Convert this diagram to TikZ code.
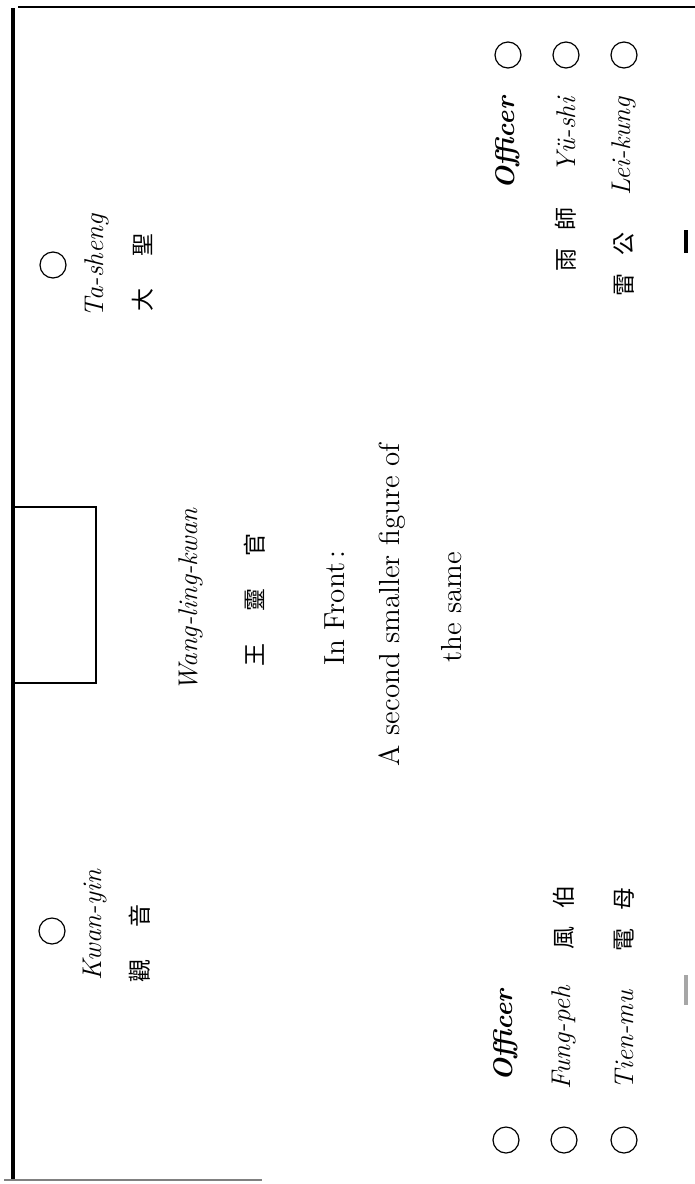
\documentclass[tikz,border=0pt]{standalone}
\usepackage{fontspec}
\newfontfamily\cjk{Noto Sans CJK TC}
\usetikzlibrary{positioning}

\newcommand{\widegap}{\hspace{16pt}}
\newcommand{\narrowgap}{\hspace{9pt}}

\begin{document}
\begin{tikzpicture}[
  x=0.5pt, y=-0.5pt,
  spot/.style={draw, circle, minimum size=13pt, inner sep=0pt, line width=0.6pt},
  roman/.style={rotate=90, inner sep=0pt,
               font=\fontsize{13.5}{15}\selectfont\itshape\addfontfeature{LetterSpace=6}},
  romanbold/.style={roman, font=\fontsize{13.5}{15}\selectfont\bfseries\itshape\addfontfeature{LetterSpace=6}},
  han/.style={rotate=90, inner sep=0pt, font=\fontsize{11.5}{13}\selectfont\cjk},
  notetext/.style={rotate=90, inner sep=0pt, font=\fontsize{14.5}{17}\selectfont},
  rule/.style={line width=1pt},
]
  \useasboundingbox (0,0) rectangle (695,1184);

  % page rules and the niche
  \draw[line width=2.4pt] (13,8) -- (13,1181);
  \draw[rule] (18,7) -- (695,7);
  \draw[gray, line width=0.8pt] (4,1180) -- (262,1180);
  \draw[line width=1.1pt] (13,507) -- (96,507) -- (96,683) -- (13,683);
  \draw[line width=2pt] (686,230) -- (686,253);
  \draw[gray!70, line width=2pt] (686,975) -- (686,1005);

  % Ta-sheng
  \node[spot] (ta) at (53,265) {};
  \node[roman] (ta-name) at (97,266) {Ta-sheng};
  \node[han] (ta-han) at (143,272) {大\widegap 聖};

  % Kwan-yin
  \node[spot] (kw) at (52,931) {};
  \node[roman] (kw-name) at (95,925) {Kwan-yin};
  \node[han] (kw-han) at (140,943) {觀\widegap 音};

  % central figure
  \node[roman] (wl-name) at (191,600) {Wang-ling-kwan};
  \node[han] (wl-han) at (255,600) {王\widegap 靈\widegap 官};
  \node[notetext] (front) at (335,608) {In Front\,:};
  \node[notetext] (second) at (392,605) {A second smaller figure of};
  \node[notetext] (same) at (452,607) {the same};

  % right hand row
  \node[spot] (of1) at (508,55) {};
  \node[spot] (ys) at (566,55) {};
  \node[spot] (lk) at (624,55) {};
  \node[romanbold, anchor=east] (of1-name) at (508,97) {Officer};
  \node[roman, anchor=east] (ys-name) at (566,97) {Yü-shi};
  \node[roman, anchor=east] (lk-name) at (624,97) {Lei-kung};
  \node[han, anchor=east] (ys-han) at (566,207) {雨\narrowgap 師};
  \node[han, anchor=east] (lk-han) at (624,232) {雷\narrowgap 公};

  % left hand row
  \node[spot] (of2) at (506,1140) {};
  \node[spot] (fp) at (564,1140) {};
  \node[spot] (tm) at (624,1140) {};
  \node[romanbold, anchor=west] (of2-name) at (506,1082) {Officer};
  \node[roman, anchor=west] (fp-name) at (564,1090) {Fung-peh};
  \node[roman, anchor=west] (tm-name) at (624,1090) {Tien-mu};
  \node[han, anchor=west] (fp-han) at (564,950) {風\narrowgap 伯};
  \node[han, anchor=west] (tm-han) at (624,952) {電\narrowgap 母};
\end{tikzpicture}
\end{document}
